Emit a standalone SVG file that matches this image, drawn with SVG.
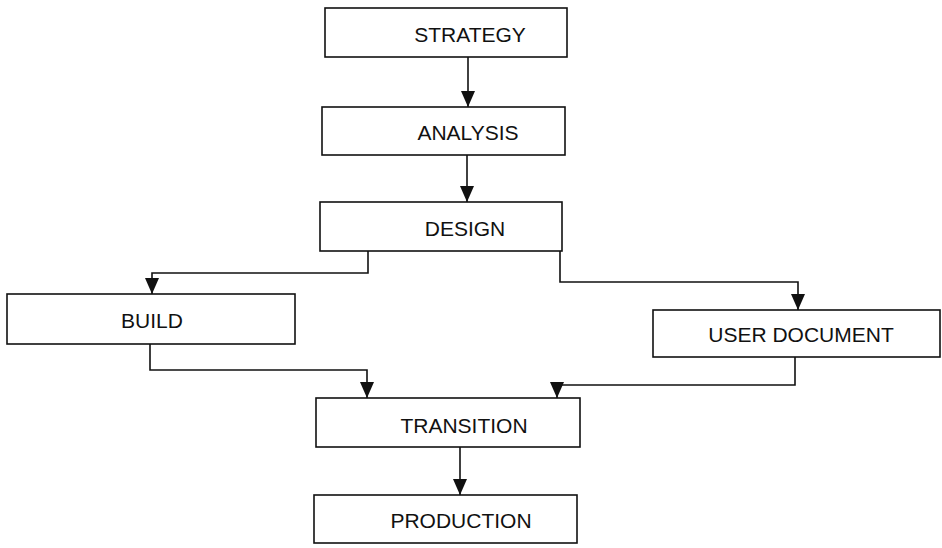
<svg xmlns="http://www.w3.org/2000/svg" width="942" height="548" viewBox="0 0 942 548">
<style>
.box{fill:#fff;stroke:#111;stroke-width:1.6}
.lbl{font-family:"Liberation Sans",Arial,sans-serif;font-size:21px;fill:#111;text-anchor:middle}
.con{fill:none;stroke:#111;stroke-width:1.6}
</style>
<defs>
<marker id="ah" markerUnits="userSpaceOnUse" markerWidth="17" markerHeight="14" refX="16" refY="7" orient="auto" viewBox="0 0 17 14">
<path d="M0,0 L16,7 L0,14 Z" fill="#111"/>
</marker>
</defs>
<rect width="942" height="548" fill="#fff"/>
<g id="connectors">
<path class="con" d="M468,57 V107" marker-end="url(#ah)"/>
<path class="con" d="M467,155 V202" marker-end="url(#ah)"/>
<path class="con" d="M368,251 V273 H152 V294" marker-end="url(#ah)"/>
<path class="con" d="M560,251 V282 H798 V310" marker-end="url(#ah)"/>
<path class="con" d="M150,344 V370 H367 V398" marker-end="url(#ah)"/>
<path class="con" d="M795,357 V385 H557 V398" marker-end="url(#ah)"/>
<path class="con" d="M460,447 V495" marker-end="url(#ah)"/>
</g>
<g id="strategy"><rect class="box" x="325" y="8" width="242" height="49"/><text class="lbl" x="470" y="42">STRATEGY</text></g>
<g id="analysis"><rect class="box" x="322" y="107" width="243" height="48"/><text class="lbl" x="468" y="140">ANALYSIS</text></g>
<g id="design"><rect class="box" x="320" y="202" width="242" height="49"/><text class="lbl" x="465" y="236">DESIGN</text></g>
<g id="build"><rect class="box" x="7" y="294" width="288" height="50"/><text class="lbl" x="152" y="328">BUILD</text></g>
<g id="user-document"><rect class="box" x="653" y="310" width="287" height="47"/><text class="lbl" x="801" y="342">USER DOCUMENT</text></g>
<g id="transition"><rect class="box" x="316" y="398" width="264" height="49"/><text class="lbl" x="464" y="433">TRANSITION</text></g>
<g id="production"><rect class="box" x="314" y="495" width="263" height="48"/><text class="lbl" x="461" y="528">PRODUCTION</text></g>
</svg>
